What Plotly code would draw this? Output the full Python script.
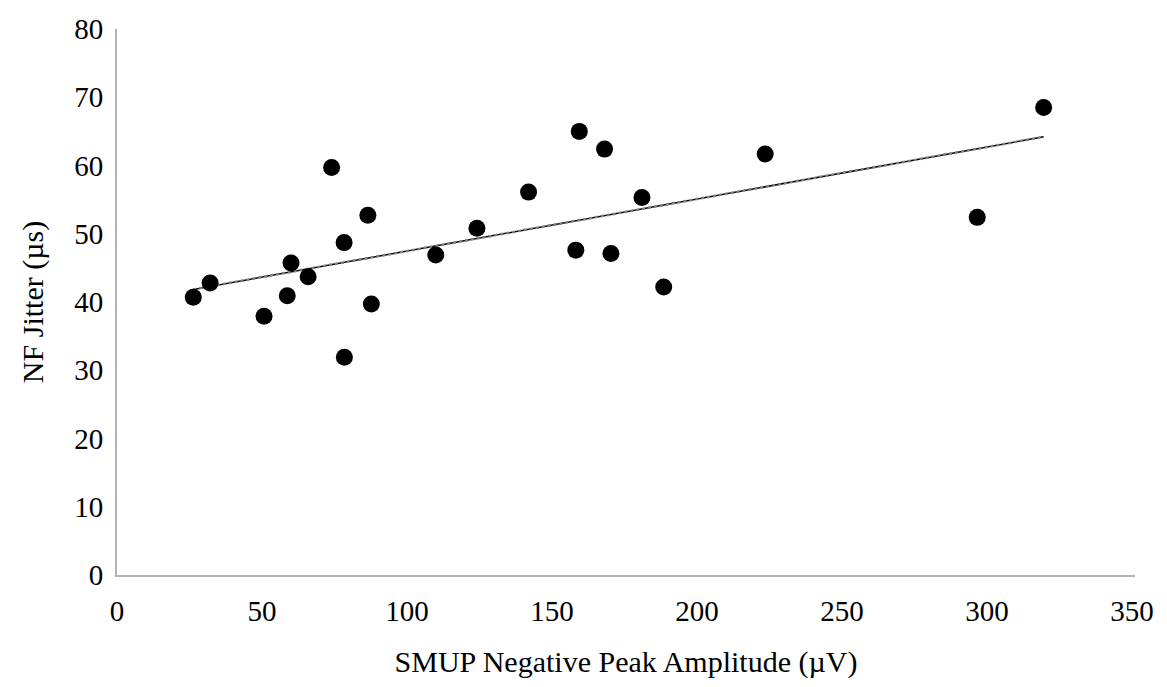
import numpy as np
import plotly.graph_objects as go

amplitude_uv = [26.3, 32.1, 50.7, 58.7, 60.0, 65.9, 74.0, 78.3, 78.4, 86.5, 87.7,
                109.9, 124.1, 141.9, 158.2, 159.4, 168.1, 170.3, 181.0, 188.5,
                223.5, 296.6, 319.5]
jitter_us = [40.7, 42.8, 37.9, 40.9, 45.7, 43.7, 59.7, 48.7, 31.9, 52.7, 39.7,
             46.9, 50.8, 56.1, 47.6, 65.0, 62.4, 47.1, 55.3, 42.2,
             61.7, 52.4, 68.5]

x_ticks = [0, 50, 100, 150, 200, 250, 300, 350]
y_ticks = [0, 10, 20, 30, 40, 50, 60, 70, 80]

slope, intercept = np.polyfit(amplitude_uv, jitter_us, 1)
fit_x = [min(amplitude_uv), max(amplitude_uv)]
fit_y = [slope * v + intercept for v in fit_x]

font_family = "Liberation Serif, Times New Roman, serif"

fig = go.Figure()
fig.add_trace(go.Scatter(x=fit_x, y=fit_y, mode="lines",
                         line=dict(color="black", width=1.5), hoverinfo="skip"))
fig.add_trace(go.Scatter(x=fit_x, y=fit_y, mode="lines",
                         line=dict(color="#808080", width=2.5, dash="dot"), hoverinfo="skip"))
fig.add_trace(go.Scatter(x=amplitude_uv, y=jitter_us, mode="markers",
                         marker=dict(color="black", size=17, line=dict(width=0))))

fig.update_layout(
    width=1151, height=671,
    margin=dict(l=109, r=24, t=21, b=104),
    paper_bgcolor="white", plot_bgcolor="white",
    showlegend=False,
    font=dict(family=font_family, size=29, color="black"),
)
fig.update_xaxes(
    automargin=False, ticklabeloverflow="allow",
    range=[0, 351], tickvals=x_ticks, ticktext=[str(v) for v in x_ticks],
    showgrid=False, zeroline=False, showline=True, linecolor="#b3b3b3", linewidth=2,
    ticks="", ticklabelstandoff=9, tickfont=dict(size=29),
    title=dict(text="SMUP Negative Peak Amplitude (µV)", font=dict(size=30), standoff=26),
)
fig.update_yaxes(
    automargin=False, ticklabeloverflow="allow",
    range=[0, 80], tickvals=y_ticks, ticktext=[str(v) for v in y_ticks],
    showgrid=False, zeroline=False, showline=True, linecolor="#b3b3b3", linewidth=2,
    ticks="", ticklabelstandoff=6, tickfont=dict(size=29),
    title=dict(text="NF Jitter (µs)", font=dict(size=30), standoff=22),
)

fig.write_html("out.html")
